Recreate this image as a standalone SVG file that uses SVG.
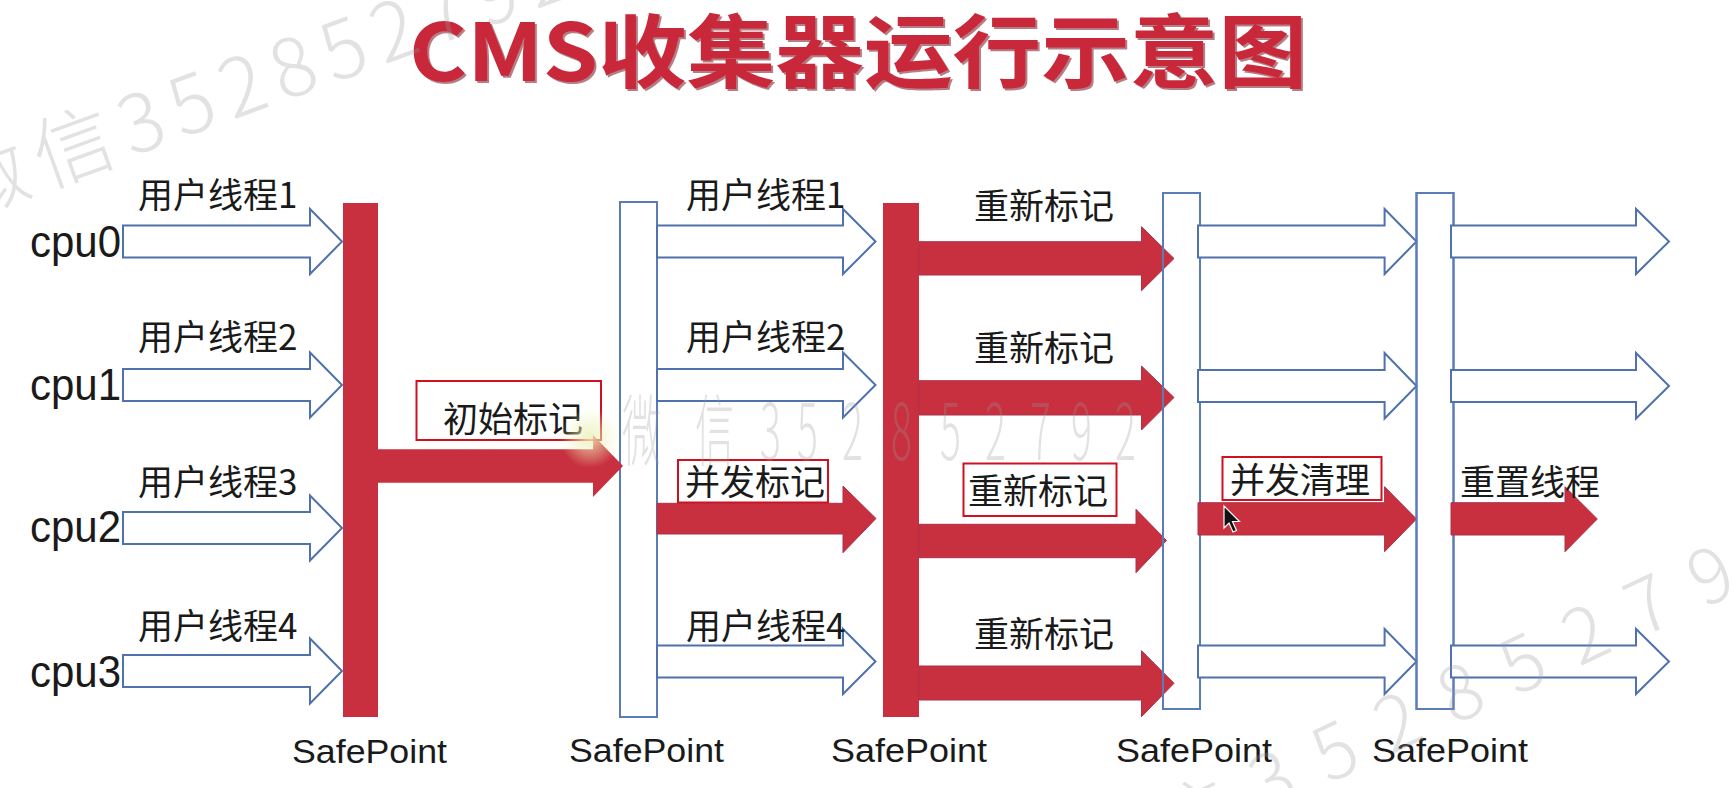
<svg xmlns="http://www.w3.org/2000/svg" width="1732" height="788" viewBox="0 0 1732 788">
<defs>
<style>
.bg{fill:#ffffff}
.title{font-family:"Noto Sans CJK SC","Liberation Sans",sans-serif;font-weight:700;font-size:80px}
.lbl{font-family:"Noto Sans CJK SC","Liberation Sans",sans-serif;font-size:35px;fill:#1a1a1a}
.cpu{font-family:"Liberation Sans","Noto Sans",sans-serif;font-size:44px;fill:#1a1a1a}
.sp{font-family:"Liberation Sans","Noto Sans",sans-serif;font-size:34px;fill:#1a1a1a}
.bar{fill:#c8303f}
.sprect{fill:#ffffff;stroke:#5a7cb8;stroke-width:2}
.sprectline{fill:none;stroke:#5a7cb8;stroke-width:2}
.barrow{fill:#ffffff;stroke:#4f71ad;stroke-width:2;stroke-linejoin:miter}
.rarrow{fill:#c8303f;stroke:#a8334a;stroke-width:1}
.box{fill:none;stroke:#d0101e;stroke-width:2}
.wm{font-family:"Noto Sans CJK SC","Liberation Sans",sans-serif;font-weight:300;fill:#9a9a9a;opacity:0.28}
</style>
<radialGradient id="halo">
<stop offset="0" stop-color="#eef0b8" stop-opacity="0.85"/>
<stop offset="1" stop-color="#eef0b8" stop-opacity="0"/>
</radialGradient>
</defs>
<rect class="bg" x="0" y="0" width="1732" height="788"/>

<g id="title">
<text class="title" x="411" y="83" fill="#7a1420" opacity="0.55" textLength="898" lengthAdjust="spacingAndGlyphs">CMS收集器运行示意图</text>
<text class="title" x="409" y="81" fill="#c9283a" textLength="898" lengthAdjust="spacingAndGlyphs">CMS收集器运行示意图</text>
</g>

<g id="cpu-labels">
<text class="cpu" x="30" y="257" textLength="91" lengthAdjust="spacingAndGlyphs">cpu0</text>
<text class="cpu" x="30" y="400" textLength="91" lengthAdjust="spacingAndGlyphs">cpu1</text>
<text class="cpu" x="30" y="542" textLength="91" lengthAdjust="spacingAndGlyphs">cpu2</text>
<text class="cpu" x="30" y="687" textLength="91" lengthAdjust="spacingAndGlyphs">cpu3</text>
</g>

<g id="safepoint-1">
<rect class="bar" x="343" y="203" width="35" height="514"/>
<text class="sp" x="292" y="763" textLength="155" lengthAdjust="spacingAndGlyphs">SafePoint</text>
</g>
<g id="safepoint-2">
<rect class="sprect" x="620" y="202" width="37" height="515"/>
<text class="sp" x="569" y="762" textLength="155" lengthAdjust="spacingAndGlyphs">SafePoint</text>
</g>
<g id="safepoint-3">
<rect class="bar" x="883" y="203" width="36" height="514"/>
<text class="sp" x="831" y="762" textLength="156" lengthAdjust="spacingAndGlyphs">SafePoint</text>
</g>
<g id="safepoint-4">
<rect class="sprect" x="1163" y="193" width="37" height="516"/>
<text class="sp" x="1116" y="762" textLength="156" lengthAdjust="spacingAndGlyphs">SafePoint</text>
</g>
<g id="safepoint-5">
<rect class="sprect" x="1416.5" y="193" width="37" height="516"/>
<text class="sp" x="1372" y="762" textLength="156" lengthAdjust="spacingAndGlyphs">SafePoint</text>
</g>

<g id="connectors">
<path class="barrow" d="M123 225.5 H310 V209 L342 241.5 L310 274 V257.5 H123 Z"/>
<path class="barrow" d="M123 369 H310 V352.5 L342 385 L310 417.5 V401 H123 Z"/>
<path class="barrow" d="M123 512 H310 V495.5 L342 528 L310 560.5 V544 H123 Z"/>
<path class="barrow" d="M123 655 H310 V638.5 L342 671 L310 703.5 V687 H123 Z"/>
<path class="bar" d="M370 449.3 H593 V435 L623 466 L593 497 V482.7 H370 Z"/>
<path class="barrow" d="M657 225.5 H843 V209 L875.5 241.5 L843 274 V257.5 H657 Z"/>
<path class="barrow" d="M657 369 H843 V352.5 L875.5 385 L843 417.5 V401 H657 Z"/>
<path class="barrow" d="M657 645.5 H843 V629 L875.5 661.5 L843 694 V677.5 H657 Z"/>
<path class="rarrow" d="M657 503.3 H843 V486 L876 518.5 L843 552.7 V534 H657 Z"/>
<path class="rarrow" d="M919 241.7 H1141.5 V226.7 L1174 258.5 L1141.5 290.7 V275 H919 Z"/>
<path class="rarrow" d="M919 380.7 H1141.5 V366 L1174 397.5 L1141.5 430 V415 H919 Z"/>
<path class="rarrow" d="M919 524.3 H1136 V509.3 L1166.5 540.5 L1136 572.7 V557.7 H919 Z"/>
<path class="rarrow" d="M919 666 H1141.5 V650.7 L1174 683.3 L1141.5 716.7 V700 H919 Z"/>
<rect class="sprectline" x="1163" y="193" width="37" height="516"/>
<path class="barrow" d="M1198 225.5 H1384.6 V209 L1416.5 241.5 L1384.6 274 V257.5 H1198 Z"/>
<path class="barrow" d="M1198 370 H1384.6 V353 L1416.5 386 L1384.6 418.5 V402 H1198 Z"/>
<path class="barrow" d="M1198 645.5 H1384.6 V629 L1416.5 661.5 L1384.6 694 V677.5 H1198 Z"/>
<path class="rarrow" d="M1198 502.7 H1384.6 V486.7 L1416.5 519 L1384.6 551.7 V535 H1198 Z"/>
<rect class="sprectline" x="1416.5" y="193" width="37" height="516"/>
<path class="barrow" d="M1451 225.5 H1636 V209 L1669 241.5 L1636 274 V257.5 H1451 Z"/>
<path class="barrow" d="M1451 370 H1636 V353 L1669 386 L1636 418.5 V402 H1451 Z"/>
<path class="barrow" d="M1451 645.5 H1636 V629 L1669 661.5 L1636 694 V677.5 H1451 Z"/>
<path class="rarrow" d="M1451 502.7 H1565 V486.7 L1597.3 519 L1565 551.7 V535 H1451 Z"/>
</g>

<g id="labels-col1">
<text class="lbl" x="138" y="207.5">用户线程1</text>
<text class="lbl" x="138" y="350">用户线程2</text>
<text class="lbl" x="138" y="494.5">用户线程3</text>
<text class="lbl" x="138" y="639">用户线程4</text>
</g>
<g id="label-initial-mark">
<rect class="box" x="416.5" y="381" width="184.5" height="59"/>
<text class="lbl" x="443" y="432">初始标记</text>
</g>
<g id="labels-col2">
<text class="lbl" x="686" y="207.5">用户线程1</text>
<text class="lbl" x="686" y="350">用户线程2</text>
<text class="lbl" x="686" y="639">用户线程4</text>
</g>
<g id="label-concurrent-mark">
<rect class="box" x="678" y="460" width="150" height="42.5"/>
<text class="lbl" x="685" y="495">并发标记</text>
</g>
<g id="labels-remark">
<text class="lbl" x="974" y="219">重新标记</text>
<text class="lbl" x="974" y="361">重新标记</text>
<text class="lbl" x="974" y="647">重新标记</text>
</g>
<g id="label-remark-boxed">
<rect class="box" x="963.5" y="463.5" width="153" height="52.5"/>
<text class="lbl" x="968" y="504">重新标记</text>
</g>
<g id="label-concurrent-sweep">
<rect class="box" x="1222.5" y="457" width="159" height="43"/>
<text class="lbl" x="1230" y="493">并发清理</text>
</g>
<g id="label-reset">
<text class="lbl" x="1460" y="495">重置线程</text>
</g>

<g id="cursor">
<circle cx="590" cy="438" r="30" fill="url(#halo)"/>
<path d="M1224 506 L1224 528 L1229 523 L1233 532 L1236.5 530.5 L1232.5 521.5 L1239.5 521.5 Z" fill="#111" stroke="#fff" stroke-width="1.2"/>
</g>

<g id="watermarks">
<text class="wm" font-size="80" letter-spacing="11" transform="translate(-40,219) rotate(-20)">微信352852792</text>
<text class="wm" font-size="78" transform="scale(0.5,1)" x="1244 1390 1520 1594 1684 1782 1880 1970 2060 2142 2230" y="460">微信352852792</text>
<text class="wm" font-size="75" letter-spacing="29" transform="translate(1077,901) rotate(-25)">微信352852792</text>
</g>
</svg>
